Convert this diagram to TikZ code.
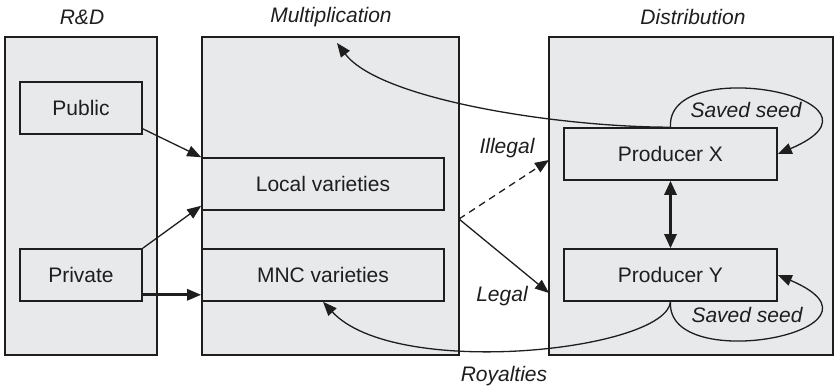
\documentclass[tikz,border=0pt]{standalone}
\usepackage{fontspec}
\setmainfont{Liberation Sans}
\usetikzlibrary{arrows.meta}
\definecolor{panelgray}{HTML}{E8E9EB}
\definecolor{ink}{HTML}{1E1E1E}

\begin{document}
\begin{tikzpicture}[x=1bp,y=1bp,
        font=\fontsize{21bp}{25bp}\selectfont,
        panel/.style={draw=ink,line width=1.6bp,fill=panelgray,minimum height=318bp,inner sep=0pt},
        box/.style={draw=ink,line width=1.6bp,fill=panelgray,minimum height=52bp,inner sep=0pt,text=ink},
        title/.style={font=\fontsize{21bp}{25bp}\selectfont\itshape,text=ink},
        flow/.style={-{Triangle[length=14bp,width=11bp]},draw=ink,line width=1.3bp},
        heavy/.style={line width=2.8bp}]
    \useasboundingbox (0,0) rectangle (835,390);

    \node[panel,minimum width=152bp] (rd) at (81,194) {};
    \node[panel,minimum width=257bp] (mult) at (330.5,194) {};
    \node[panel,minimum width=284bp] (dist) at (691,194) {};

    \node[title] (rdtitle) at (82,373) {R\&D};
    \node[title] (multtitle) at (331,373) {Multiplication};
    \node[title] (disttitle) at (693,373) {Distribution};

    \node[box,minimum width=122bp] (pub) at (81,282) {Public};
    \node[box,minimum width=122bp] (priv) at (81,115) {Private};
    \node[box,minimum width=242bp] (local) at (323,206) {Local varieties};
    \node[box,minimum width=242bp] (mnc) at (323,115) {MNC varieties};
    \node[box,minimum width=213bp] (px) at (670.5,236) {Producer X};
    \node[box,minimum width=213bp] (py) at (670.5,115) {Producer Y};

    \coordinate (fork) at (459,171);
    \coordinate (illin) at (549,230);
    \coordinate (legin) at (549,97);
    \coordinate (multtop) at (337,347);

    \draw[flow] ([yshift=6bp]pub.south east) -- (local.north west);
    \draw[flow] (priv.north east) -- ([yshift=5bp]local.south west);
    \draw[flow,heavy] ([yshift=7bp]priv.south east) -- ([yshift=7bp]mnc.south west);

    \draw[flow,dash pattern=on 7bp off 5bp] (fork) -- (illin);
    \draw[flow] (fork) -- (legin);
    \node[title] (illegal) at (507,242) {Illegal};
    \node[title] (legal) at (502,94) {Legal};

    \draw[flow,heavy,{Triangle[length=14bp,width=12bp]}-{Triangle[length=14bp,width=12bp]}] (px.south) -- (py.north);

    % saved seed loops
    \draw[flow] (px.north) .. controls +(-5,75) and +(130,55) .. (px.east);
    \draw[flow] (py.south) .. controls +(-5,-75) and +(130,-55) .. (py.east);
    \node[title] (seedx) at (746,280) {Saved seed};
    \node[title] (seedy) at (747,75) {Saved seed};

    % royalties
    \draw[flow] (px.north) .. controls +(-110,0) and +(43,-57) .. (multtop);
    \draw[flow] (py.south) .. controls +(-5,-49) and +(72,-78) .. (mnc.south);
    \node[title] (royal) at (504,14) {Royalties};
\end{tikzpicture}
\end{document}
